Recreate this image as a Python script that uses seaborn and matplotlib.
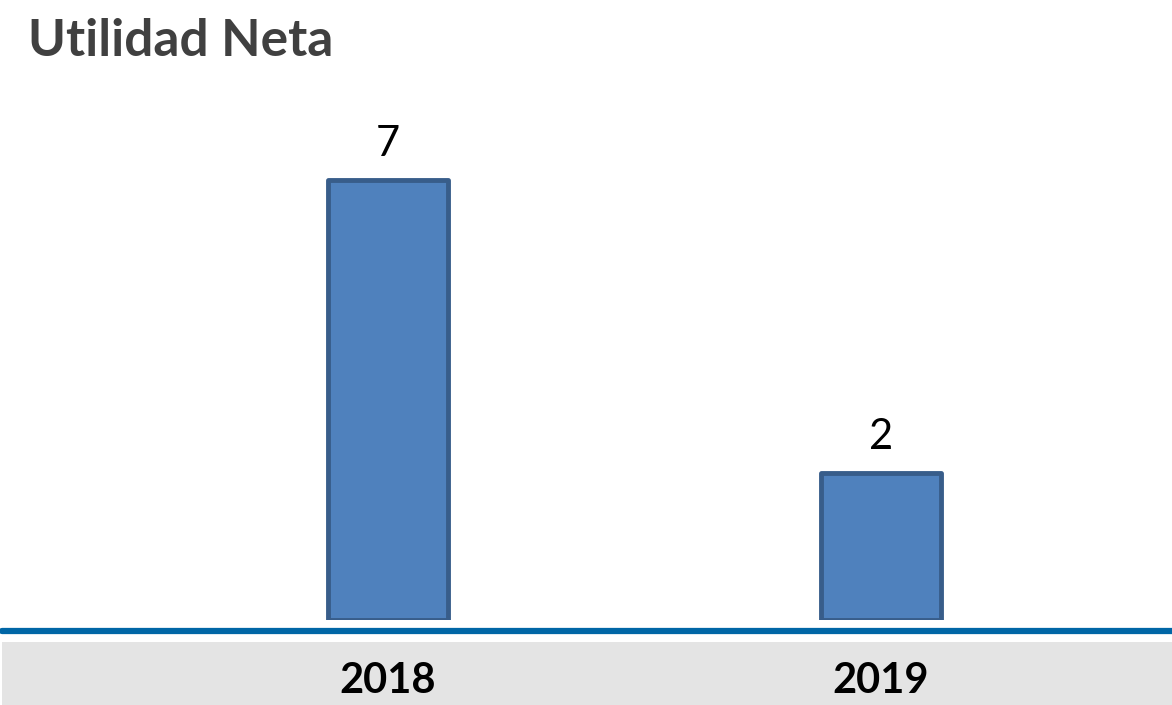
import matplotlib
matplotlib.use('Agg')
import matplotlib.pyplot as plt
import seaborn as sns
import pandas as pd
from matplotlib.patches import Rectangle
from matplotlib.lines import Line2D

# ── Données ─────────────────────────────────────────────
years = ['2018', '2019']
values = [7.0, 2.34]   # étiquettes arrondies : 7 et 2
title = 'Utilidad Neta'

df = pd.DataFrame({'year': years, 'utilidad': values})

sns.set_style('white')
plt.rcParams['font.family'] = ['Lato', 'DejaVu Sans']

W, H = 1172, 705
fig = plt.figure(figsize=(W / 100, H / 100), dpi=100)

# bandeau gris + ligne bleue (coordonnées figure)
fig.patches.append(Rectangle((2 / W, 0), 1170 / W, (H - 642) / H,
                             transform=fig.transFigure, facecolor='#E4E4E4',
                             edgecolor='none', zorder=0))
fig.lines.append(Line2D([2 / W, 1], [(H - 631) / H] * 2, transform=fig.transFigure,
                        color='#0066A6', linewidth=4.5, zorder=1))

# axes : x pixels 2..1172, y pixels 90..620 (0 en bas)
ax = fig.add_axes([2 / W, (H - 620) / H, 1170 / W, 530 / H])
ax.set_facecolor('none')
ax.set_zorder(3)

sns.barplot(data=df, x='year', y='utilidad', ax=ax, color='#4F81BD',
            width=0.243, saturation=1, edgecolor='#385D8A', linewidth=3.5)
for p in ax.patches:
    p.set_joinstyle('round')

ax.set_xlim(-0.783, 1.590)
ax.set_ylim(0, 8.43)
ax.set_xlabel('')
ax.set_ylabel('')
ax.set_yticks([])
sns.despine(ax=ax, left=True, bottom=True)
ax.tick_params(axis='x', length=0, pad=30, labelsize=30)
for lbl in ax.get_xticklabels():
    lbl.set_fontweight('bold')
    lbl.set_color('black')

for i, v in enumerate(values):
    ax.annotate(f'{v:.0f}', (i, v), xytext=(0, 12), textcoords='offset points',
                ha='center', va='bottom', fontsize=30, color='black')

fig.text(28 / W, 1 - 42 / H, title, fontsize=37, fontweight='bold',
         color='#404040', ha='left', va='center')

plt.savefig('out.png', dpi=100)
plt.close()
